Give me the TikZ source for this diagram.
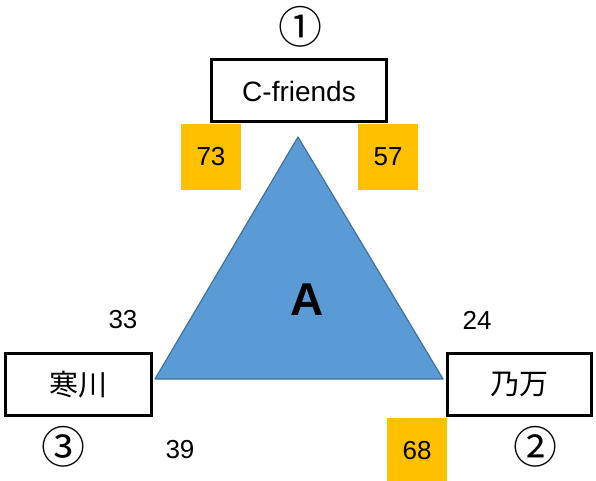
\documentclass[tikz,border=0pt]{standalone}
\usepackage{fontspec}
\setmainfont{Liberation Sans}
\newfontfamily\cjk{Noto Sans CJK JP}
\definecolor{tri}{HTML}{5B9BD5}
\definecolor{triline}{HTML}{41719C}
\definecolor{orng}{HTML}{FFC000}
\begin{document}
\begin{tikzpicture}[x=1pt,y=-1pt,
  lbox/.style={draw=black,line width=3pt,fill=white,inner sep=0pt,minimum height=62pt,font=\fontsize{28}{32}\selectfont},
  obox/.style={fill=orng,inner sep=0pt,minimum width=60pt,minimum height=66pt,font=\fontsize{26}{30}\selectfont},
  num/.style={inner sep=0pt,font=\fontsize{26}{30}\selectfont},
  circ/.style={inner sep=0pt,font=\cjk\fontsize{44}{48}\selectfont}]
\useasboundingbox (0,0) rectangle (596,481);
% triangle
\coordinate (tA) at (298,137);
\coordinate (tL) at (155,379);
\coordinate (tR) at (443,379);
\filldraw[fill=tri,draw=triline,line width=1.2pt,line join=round] (tA) -- (tL) -- (tR) -- cycle;
\node[inner sep=0pt,font=\bfseries\fontsize{46}{50}\selectfont] (lblA) at (307,300) {A};
% boxes
\node[lbox,minimum width=175pt] (cf) at (299,91) {C-friends};
\node[lbox,minimum width=146pt,font=\cjk\fontsize{29}{32}\selectfont] (sk) at (78.5,384.5) {寒川};
\node[lbox,minimum width=144pt,font=\cjk\fontsize{29}{32}\selectfont] (nm) at (519.5,384.5) {乃万};
% orange scores
\node[obox] (s73) at (211,157) {73};
\node[obox] (s57) at (388,157) {57};
\node[obox] (s68) at (417,451) {68};
% plain scores
\node[num] (s33) at (123,320) {33};
\node[num] (s24) at (477,320) {24};
\node[num] (s39) at (180,450) {39};
% circled numbers
\node[circ] (c1) at (300,27) {①};
\node[circ] (c2) at (535,447) {②};
\node[circ] (c3) at (63,447) {③};
\end{tikzpicture}
\end{document}
